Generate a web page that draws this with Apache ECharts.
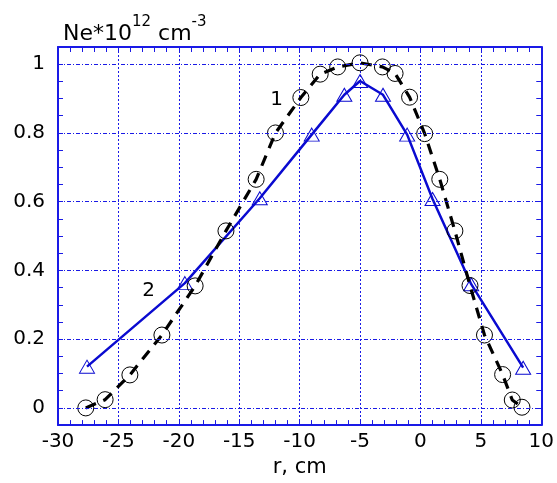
<!DOCTYPE html>
<html>
<head>
<meta charset="utf-8">
<script src="https://cdn.jsdelivr.net/npm/echarts@6/dist/echarts.min.js"></script>
<style>html,body{margin:0;padding:0;background:#fff}#c{width:557px;height:483px}</style>
</head>
<body>
<div id="c"></div>
<script>
// Curve 1 (circles, dashed black)
const r1 = [-27.7, -26.1, -24.05, -21.4, -18.65, -16.1, -13.6, -12.0, -9.9, -8.3, -6.85, -5.0, -3.15, -2.1, -0.9, 0.35, 1.6, 2.85, 4.1, 5.3, 6.8, 7.6, 8.4];
const ne1 = [0.0, 0.024, 0.096, 0.212, 0.355, 0.515, 0.665, 0.80, 0.903, 0.971, 0.992, 1.004, 0.992, 0.973, 0.904, 0.798, 0.665, 0.515, 0.356, 0.212, 0.097, 0.023, 0.002];
// Curve 2 (triangles, solid blue)
const r2 = [-27.6, -19.5, -13.3, -9.0, -6.3, -5.0, -3.1, -1.1, 1.0, 4.2, 8.5];
const ne2 = [0.12, 0.363, 0.61, 0.795, 0.911, 0.951, 0.911, 0.795, 0.608, 0.36, 0.117];
// Axis ticks
const xMin = -30, xMax = 10, xMajor = 5, xMinor = 1;
const yMin = -0.05, yMax = 1.05, yMinor = 0.05;
const yGridValues = [0, 0.2, 0.4, 0.6, 0.8, 1];
// Curve labels
const labels = [{ name: '1', coord: [-11.9, 0.896] }, { name: '2', coord: [-22.5, 0.342] }];

const BLUE = '#1a1ae6';
const FONT = 'DejaVu Sans, sans-serif';
const chart = echarts.init(document.getElementById('c'), null, { renderer: 'canvas' });
const zip = (a, b) => a.map((v, i) => [v, b[i]]);

chart.setOption({
  animation: false,
  backgroundColor: '#fff',
  title: {
    text: '{a|Ne*10}{s|12}{a| cm}{s|-3}',
    left: 58, top: 10,
    textStyle: {
      fontWeight: 'normal',
      rich: {
        a: { fontSize: 22, fontFamily: FONT, fontWeight: 'normal', color: '#000', verticalAlign: 'bottom', lineHeight: 30 },
        s: { fontSize: 15, fontFamily: FONT, fontWeight: 'normal', color: '#000', verticalAlign: 'top', lineHeight: 30 }
      }
    }
  },
  grid: { left: 58, right: 15, top: 47, bottom: 55, containLabel: false },
  xAxis: [
    {
      type: 'value', min: xMin, max: xMax, interval: xMajor, position: 'bottom',
      axisLine: { onZero: false, lineStyle: { color: BLUE, width: 2 } },
      axisTick: { show: false },
      axisLabel: { fontSize: 20, color: '#000', fontFamily: FONT, margin: 7 },
      splitLine: { show: true, lineStyle: { color: BLUE, type: [2, 2], width: 1 } },
      name: 'r, cm', nameLocation: 'middle', nameGap: 29,
      nameTextStyle: { fontSize: 21, color: '#000', fontFamily: FONT }
    },
    {
      type: 'value', min: xMin, max: xMax, interval: xMinor, position: 'bottom',
      axisLine: { show: false, onZero: false },
      axisTick: { inside: true, length: 5, lineStyle: { color: BLUE, width: 1 } },
      axisLabel: { show: false }, splitLine: { show: false }
    },
    {
      type: 'value', min: xMin, max: xMax, interval: xMinor, position: 'top',
      axisLine: { show: true, onZero: false, lineStyle: { color: BLUE, width: 2 } },
      axisTick: { inside: true, length: 5, lineStyle: { color: BLUE, width: 1 } },
      axisLabel: { show: false }, splitLine: { show: false }
    }
  ],
  yAxis: [
    {
      type: 'value', min: yMin, max: yMax, interval: yMinor, position: 'left',
      axisLine: { show: true, onZero: false, lineStyle: { color: BLUE, width: 2 } },
      axisTick: { inside: true, length: 5, lineStyle: { color: BLUE, width: 1 } },
      axisLabel: {
        fontSize: 20, color: '#000', fontFamily: FONT, margin: 13,
        formatter: v => { const r = Math.round(v * 100); return (r >= 0 && r <= 100 && r % 20 === 0) ? String(r / 100) : ''; }
      },
      splitLine: { show: false }
    },
    {
      type: 'value', min: yMin, max: yMax, interval: yMinor, position: 'right',
      axisLine: { show: true, onZero: false, lineStyle: { color: BLUE, width: 2 } },
      axisTick: { inside: true, length: 5, lineStyle: { color: BLUE, width: 1 } },
      axisLabel: { show: false }, splitLine: { show: false }
    }
  ],
  series: [
    {
      type: 'line', data: [], z: 1, xAxisIndex: 0, yAxisIndex: 0, silent: true,
      markLine: {
        silent: true, symbol: 'none', animation: false,
        label: { show: false },
        lineStyle: { color: BLUE, type: [4, 2, 1, 2], width: 1 },
        data: yGridValues.map(v => ({ yAxis: v }))
      }
    },
    {
      name: '2', type: 'line', data: zip(r2, ne2), xAxisIndex: 0, yAxisIndex: 0, z: 3,
      lineStyle: { color: '#0a0ad0', width: 2.5 },
      symbol: 'triangle', symbolSize: [15, 13],
      itemStyle: { color: 'rgba(255,255,255,0)', borderColor: '#0a0ad0', borderWidth: 1 },
      markPoint: {
        symbol: 'circle', symbolSize: 0, silent: true,
        label: { show: true, formatter: p => p.name, fontSize: 20, color: '#000', fontFamily: FONT },
        data: labels
      }
    },
    {
      name: '1', type: 'line', data: zip(r1, ne1), xAxisIndex: 0, yAxisIndex: 0, z: 4,
      lineStyle: { color: '#000', width: 3.2, type: [11, 8] },
      symbol: 'circle', symbolSize: 16,
      itemStyle: { color: 'rgba(255,255,255,0)', borderColor: '#000', borderWidth: 1 }
    }
  ]
});
</script>
</body>
</html>
